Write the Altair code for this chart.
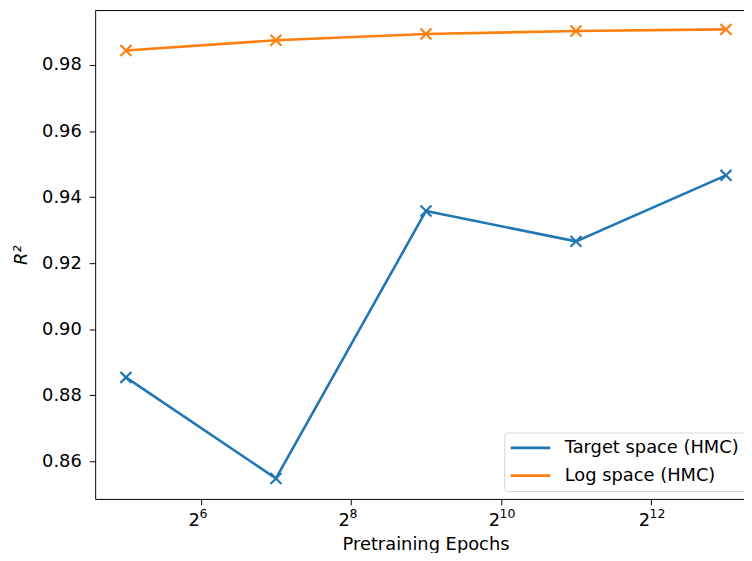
import altair as alt
import pandas as pd

# Data
epochs = [32, 128, 512, 2048, 8192]
target_space = [0.8854, 0.8548, 0.9358, 0.9266, 0.9466]
log_space = [0.9844, 0.9875, 0.9894, 0.9903, 0.9908]
series_names = ["Target space (HMC)", "Log space (HMC)"]
series_colors = ["#1f77b4", "#ff7f0e"]
x_ticks = [64, 256, 1024, 4096]
x_tick_exponents = ["6", "8", "10", "12"]
y_ticks = [0.86, 0.88, 0.90, 0.92, 0.94, 0.96, 0.98]

rows = []
for e, v in zip(epochs, target_space):
    rows.append({"epochs": e, "r2": v, "series": series_names[0]})
for e, v in zip(epochs, log_space):
    rows.append({"epochs": e, "r2": v, "series": series_names[1]})
df = pd.DataFrame(rows)
exp_df = pd.DataFrame({"epochs": x_ticks, "exp": x_tick_exponents})

W, H = 655, 493
FONT = "DejaVu Sans"
FS = 18

x_enc = alt.X(
    "epochs:Q",
    scale=alt.Scale(type="log", base=2, domain=[24.08, 9677], nice=False),
    axis=alt.Axis(
        values=x_ticks, labelExpr="'2'", title="Pretraining Epochs",
        grid=False, tickSize=6, labelPadding=21, labelBaseline="alphabetic",
        labelAlign="right", labelOffset=-1.5,
        titleX=333.5, titleY=51, titleBaseline="alphabetic", titleAlign="center",
    ),
)
y_enc = alt.Y(
    "r2:Q",
    scale=alt.Scale(domain=[0.8486, 0.9965], zero=False, nice=False),
    axis=alt.Axis(
        values=y_ticks, format=".2f", title="R²", grid=False, tickSize=6,
        labelPadding=8, titleX=-74, titleBaseline="middle", titleFontStyle="italic",
    ),
)
color_scale = alt.Scale(domain=series_names, range=series_colors)
color_enc = alt.Color(
    "series:N",
    scale=color_scale,
    sort=series_names,
    legend=alt.Legend(
        title=None, orient="none", legendX=413, legendY=426,
        labelFontSize=FS, labelFont=FONT, labelOffset=25, labelLimit=500,
        symbolOffset=11, rowPadding=9, padding=6, fillColor="white",
        strokeColor="#d6d6d6", cornerRadius=3,
    ),
)

base = alt.Chart(df)
lines = base.mark_line(strokeWidth=2.6).encode(x=x_enc, y=y_enc, color=color_enc)
points = base.mark_point(
    shape="M-1,-1L1,1M-1,1L1,-1", size=121, filled=False, strokeWidth=2.2, opacity=1
).encode(x=x_enc, y=y_enc, color=alt.Color("series:N", scale=color_scale, legend=None))
exponents = alt.Chart(exp_df).mark_text(
    align="left", baseline="alphabetic", font=FONT, fontSize=12.6, dx=-1.5, dy=19.5, color="black"
).encode(x=x_enc, y=alt.value(H), text="exp:N")
top_border = alt.Chart(pd.DataFrame({"a": [0]})).mark_rule(color="black", strokeWidth=1).encode(
    x=alt.value(0), x2=alt.value(W), y=alt.value(0)
)

chart = (
    alt.layer(lines, points, exponents, top_border)
    .properties(
        width=W, height=H,
        autosize=alt.AutoSizeParams(type="none"),
        padding={"left": 88, "top": 0, "right": 0, "bottom": 52},
    )
    .configure_view(stroke=None)
    .configure_legend(symbolType="M-2.5,0L2.5,0", symbolSize=256, symbolStrokeWidth=2.6)
    .configure_axis(
        labelFont=FONT, titleFont=FONT, labelFontSize=FS, titleFontSize=FS,
        labelColor="black", titleColor="black", domainColor="black",
        tickColor="black", domainWidth=1, tickWidth=1, titleFontWeight="normal",
    )
)
chart.save("out.html", embed_options={"renderer": "svg", "actions": False})
